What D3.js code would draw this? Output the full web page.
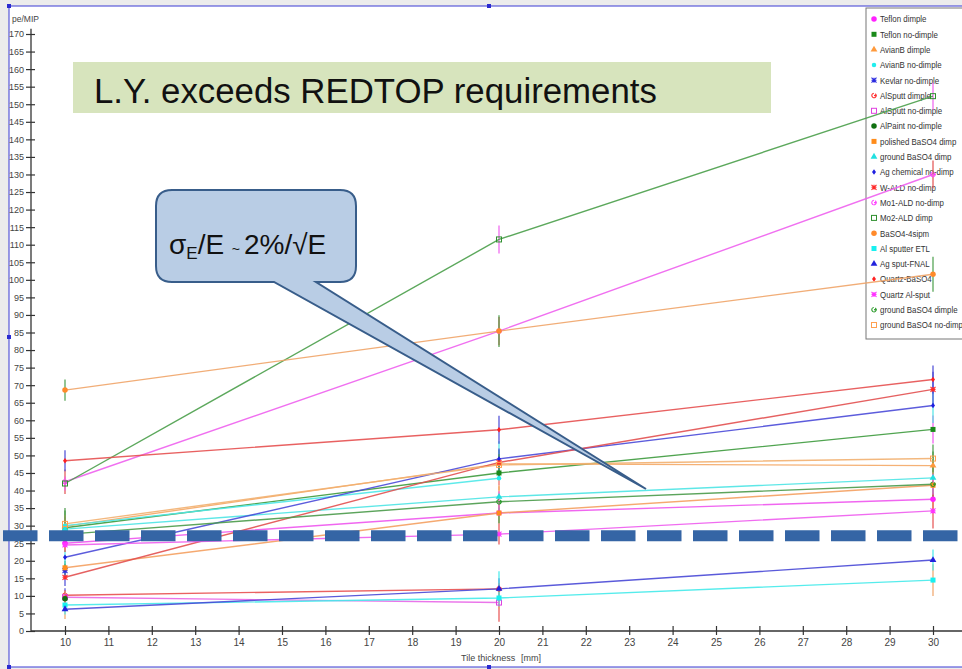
<!DOCTYPE html>
<html>
<head>
<meta charset="utf-8">
<script src="https://cdn.jsdelivr.net/npm/d3@7/dist/d3.min.js"></script>
<style>
  html, body { margin: 0; padding: 0; background: #ececec; }
  svg { display: block; }
  text { font-family: "Liberation Sans", Arial, sans-serif; }
</style>
</head>
<body>
<svg id="chart" width="962" height="669"></svg>
<script>
// Tile thickness positions (mm)
const thickness = [10, 20, 30];

// Series names as listed in the legend
const seriesNames = [
  "Teflon dimple", "Teflon no-dimple", "AvianB dimple", "AvianB no-dimple",
  "Kevlar no-dimple", "AlSputt dimple", "AlSputt no-dimple", "AlPaint no-dimple",
  "polished BaSO4 dimp", "ground BaSO4 dimp", "Ag chemical no-dimp", "W-ALD no-dimp",
  "Mo1-ALD no-dimp", "Mo2-ALD dimp", "BaSO4-4sipm", "Al sputter ETL",
  "Ag sput-FNAL", "Quartz-BaSO4", "Quartz Al-sput", "ground BaSO4 dimple",
  "ground BaSO4 no-dimp"
];

// Light yield (pe/MIP) at 10, 20, 30 mm; null = not measured
const lightYield = [
  [25.0, 33.6, 37.5],
  [29.4, 45.0, 57.4],
  [29.8, 47.6, 47.1],
  [30.0, 43.5, null],
  [17.2, null, null],
  [10.2, 12.0, null],
  [9.6, 8.1, null],
  [9.2, null, null],
  [18.0, 33.6, 41.5],
  [29.0, 38.2, 43.6],
  [21.0, 49.0, 64.2],
  [15.3, 48.0, 68.8],
  [42.5, 85.4, 130.0],
  [42.0, 111.5, 152.3],
  [68.6, 85.4, 101.6],
  [7.4, 9.4, 14.5],
  [6.2, 12.0, 20.2],
  [48.5, 57.3, 71.6],
  [24.5, 27.6, 34.2],
  [27.5, 36.8, 41.8],
  [30.5, 47.3, 49.1]
];

// Half-width of the error bar at each thickness
const errors = [
  [2.5, 3.0, 3.0],
  [3.0, 3.5, 4.0],
  [4.5, 4.0, 4.0],
  [3.0, 3.5, null],
  [2.0, null, null],
  [2.0, 3.0, null],
  [2.0, 5.5, null],
  [1.5, null, null],
  [2.0, 3.0, 3.5],
  [3.0, 3.0, 3.0],
  [2.0, 5.0, 5.0],
  [2.5, 4.0, 5.0],
  [3.5, 4.0, 4.0],
  [2.0, 4.0, 3.8],
  [3.0, 4.5, 5.0],
  [4.0, 3.0, 4.5],
  [1.5, 5.0, 3.0],
  [3.0, 4.0, 4.0],
  [2.0, 3.0, 5.0],
  [2.0, 3.0, 3.0],
  [4.5, 3.0, 4.0]
];

const seriesColors = [
  "#ff22ff", "#1a8a1a", "#ff9a3c", "#22eeee", "#2a2ae0", "#ff3030", "#e040e0",
  "#107010", "#ff8c1a", "#22e0e0", "#1f1fe0", "#ff2a2a", "#ff40ff", "#2f8f2f",
  "#ff8a2a", "#18f0f0", "#2222dd", "#ff2020", "#ff33ff", "#2a9a2a", "#ffa050"
];

const lineColors = [
  "#ee55ee", "#3d9a3d", "#f4a866", "#4de8e8", "#5050d8", "#e85050", "#e866e8",
  "#3d8a3d", "#f4a060", "#4de4e4", "#4a4ad8", "#e25050", "#ee60ee", "#4a9e4a",
  "#f0a468", "#44eaea", "#4848d6", "#e65050", "#ee5cee", "#4a9a4a", "#f2b070"
];

const markers = [
  "circle", "square", "triangle", "dot", "asterisk", "gee", "openSquare",
  "circle", "square", "triangle", "diamond", "asterisk", "gee", "openSquare",
  "circle", "square", "triangle", "diamond", "asterisk", "gee", "openSquare"
];

const yTicks = d3.range(0, 171, 5);
const xTicks = d3.range(10, 31, 1);

const svg = d3.select("#chart");
const narrowFont = "'Liberation Sans Narrow','Liberation Sans',Arial,sans-serif";

// drawing area
svg.append("rect").attr("x", 9).attr("y", 6).attr("width", 960).attr("height", 661)
  .attr("fill", "#ffffff").attr("stroke", "#3b3bd4").attr("stroke-width", 1);

const x = d3.scaleLinear().domain([10, 30]).range([65, 933]);
const y = d3.scaleLinear().domain([0, 170]).range([631, 34]);

// headline box
svg.append("rect").attr("x", 73).attr("y", 62).attr("width", 698).attr("height", 51)
  .attr("fill", "#d7e4bd");
svg.append("text").attr("x", 94).attr("y", 103)
  .attr("font-size", 34.8).attr("fill", "#111")
  .text("L.Y. exceeds REDTOP requirements");

// axes
const axisColor = "#333";
const yAxis = d3.axisLeft(y).tickValues(yTicks).tickSize(5).tickSizeOuter(0);
const gy = svg.append("g").attr("transform", "translate(31,0)").call(yAxis);
gy.select(".domain").attr("d", `M0,${y(0)}V${y(171.5)}`).attr("stroke", axisColor).attr("stroke-width", 1.3);
gy.selectAll(".tick line").attr("x1", -5).attr("x2", 4).attr("stroke", axisColor).attr("stroke-width", 1.2);
gy.selectAll(".tick text").attr("x", -7).attr("font-size", 9).attr("fill", "#444")
  .attr("font-family", narrowFont);

const xAxis = d3.axisBottom(x).tickValues(xTicks).tickSize(5).tickSizeOuter(0);
const gx = svg.append("g").attr("transform", `translate(0,${y(0)})`).call(xAxis);
gx.select(".domain").attr("d", "M31,0H962").attr("stroke", axisColor).attr("stroke-width", 1.3);
gx.selectAll(".tick line").attr("y1", -5).attr("y2", 4).attr("stroke", axisColor).attr("stroke-width", 1.2);
gx.selectAll(".tick text").attr("y", 8).attr("font-size", 10).attr("fill", "#444")
  .attr("font-family", narrowFont);

svg.append("text").attr("x", 12).attr("y", 22).attr("font-size", 8.5).attr("fill", "#444")
  .attr("font-family", narrowFont).text("pe/MIP");
svg.append("text").attr("x", 461).attr("y", 661).attr("font-size", 9).attr("fill", "#444")
  .attr("font-family", narrowFont).text("Tile thickness");
svg.append("text").attr("x", 521).attr("y", 661).attr("font-size", 9).attr("fill", "#444")
  .attr("font-family", narrowFont).text("[mm]");

// marker shapes
function drawMarker(g, type, color, size) {
  const s = size;
  switch (type) {
    case "circle":
      g.append("circle").attr("r", s * 0.55).attr("fill", color); break;
    case "dot":
      g.append("circle").attr("r", s * 0.45).attr("fill", color); break;
    case "square":
      g.append("rect").attr("x", -s / 2).attr("y", -s / 2).attr("width", s).attr("height", s).attr("fill", color); break;
    case "openSquare":
      g.append("rect").attr("x", -s / 2).attr("y", -s / 2).attr("width", s).attr("height", s)
        .attr("fill", "none").attr("stroke", color).attr("stroke-width", 1); break;
    case "triangle":
      g.append("path").attr("d", d3.symbol(d3.symbolTriangle, s * s * 0.8)()).attr("fill", color); break;
    case "diamond":
      g.append("path").attr("d", `M0,${-s * 0.55}L${s * 0.4},0L0,${s * 0.55}L${-s * 0.4},0Z`).attr("fill", color); break;
    case "asterisk":
      g.append("path").attr("d", `M${-s / 2},${-s / 2}L${s / 2},${s / 2}M${-s / 2},${s / 2}L${s / 2},${-s / 2}M${-s / 2},0H${s / 2}M0,${-s / 2}V${s / 2}`)
        .attr("stroke", color).attr("stroke-width", 1.1).attr("fill", "none"); break;
    case "gee":
      g.append("path").attr("d", d3.arc()({ innerRadius: s * 0.32, outerRadius: s * 0.55, startAngle: 0.6, endAngle: 2 * Math.PI - 0.1 }))
        .attr("fill", color);
      g.append("rect").attr("x", 0).attr("y", -0.6).attr("width", s * 0.5).attr("height", 1.2).attr("fill", color);
      break;
  }
}

// legend (drawn beneath the data); entries narrowed to fit the box
const legend = svg.append("g");
legend.append("rect").attr("x", 866).attr("y", 8).attr("width", 110).attr("height", 331)
  .attr("fill", "#fff").attr("stroke", "#777").attr("stroke-width", 1);
seriesNames.forEach((name, i) => {
  const ly = 19 + i * 15.3;
  const g = legend.append("g").attr("transform", `translate(874,${ly})`);
  drawMarker(g, markers[i], seriesColors[i], 5);
  legend.append("text").attr("transform", `translate(880,${ly + 3.3}) scale(0.84,1)`)
    .attr("font-size", 9.4).attr("fill", "#333")
    .attr("font-family", narrowFont)
    .text(name);
});

// error bars, coloured after the preceding series
const errG = svg.append("g");
lightYield.forEach((vals, i) => {
  const ec = lineColors[(i + lightYield.length - 1) % lightYield.length];
  vals.forEach((v, k) => {
    if (v == null || errors[i][k] == null) return;
    errG.append("line")
      .attr("x1", x(thickness[k])).attr("x2", x(thickness[k]))
      .attr("y1", y(v - errors[i][k])).attr("y2", y(v + errors[i][k]))
      .attr("stroke", ec).attr("stroke-width", 1.2);
  });
});

// connecting lines
const line = d3.line().defined(d => d.v != null).x(d => x(d.t)).y(d => y(d.v));
const lineG = svg.append("g");
lightYield.forEach((vals, i) => {
  const pts = vals.map((v, k) => ({ t: thickness[k], v }));
  lineG.append("path").attr("d", line(pts)).attr("fill", "none")
    .attr("stroke", lineColors[i]).attr("stroke-width", 1.4).attr("stroke-opacity", 0.9);
});

// markers
const markG = svg.append("g");
lightYield.forEach((vals, i) => {
  vals.forEach((v, k) => {
    if (v == null) return;
    const g = markG.append("g").attr("transform", `translate(${x(thickness[k])},${y(v)})`);
    drawMarker(g, markers[i], seriesColors[i], 5);
  });
});

// requirement level: dashed band
const requirement = [27];
svg.selectAll(".req").data(requirement).join("line").attr("class", "req")
  .attr("x1", 3).attr("x2", 962).attr("y1", d => y(d) - 0.5).attr("y2", d => y(d) - 0.5)
  .attr("stroke", "#3565a5").attr("stroke-width", 11).attr("stroke-dasharray", "34.5 11.5");

// resolution callout
const callout = svg.append("g");
callout.append("path")
  .attr("d", "M172,190H340Q356,190 356,206V266Q356,282 340,282H316L646,489L274,282H172Q156,282 156,266V206Q156,190 172,190Z")
  .attr("fill", "#b9cde5").attr("stroke", "#385d8a").attr("stroke-width", 2).attr("stroke-linejoin", "miter");
const ct = callout.append("text").attr("x", 169).attr("y", 254).attr("font-size", 28).attr("fill", "#111");
ct.append("tspan").text("σ");
ct.append("tspan").attr("font-size", 17).attr("dy", 5).text("E");
ct.append("tspan").attr("dy", -5).text("/E ");
ct.append("tspan").attr("font-size", 14).text("~ ");
ct.append("tspan").text("2%/√E");

// selection handles on the frame
const handles = [[9, 6], [489, 6], [9, 337], [9, 667], [489, 667]];
svg.selectAll(".handle").data(handles).join("rect").attr("class", "handle")
  .attr("x", d => d[0] - 2).attr("y", d => d[1] - 2).attr("width", 4).attr("height", 4)
  .attr("fill", "#2a2ad0");
</script>
</body>
</html>
